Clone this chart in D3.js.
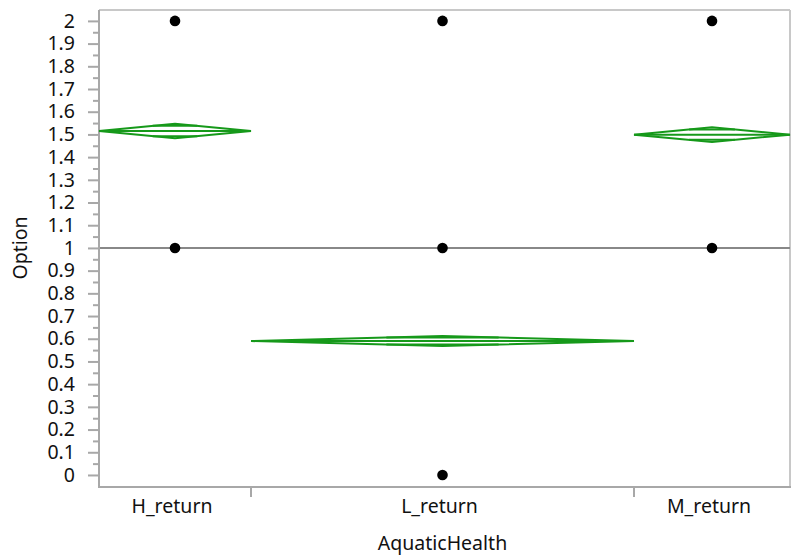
<!DOCTYPE html>
<html><head><meta charset="utf-8">
<script src="https://cdn.jsdelivr.net/npm/d3@7"></script>
<style>body{margin:0;background:#fff}svg{display:block}text{font-family:"Noto Sans","Open Sans",sans-serif;fill:#111}</style>
</head><body><svg id="c" width="793" height="558"></svg>
<script>
const categories = ["H_return","L_return","M_return"];
const counts = [152, 383, 156];          // relative group sizes (x widths)
const means = [1.515, 0.59, 1.499];
const ciHalf = [0.032, 0.022, 0.032];
const pointValues = [[1,2],[0,1,2],[1,2]];
const grandMean = 1.0;
const yTicks = d3.range(0, 21).map(i => +(i/10).toFixed(1));
const yMinor = d3.range(0, 20).map(i => +(i/10 + 0.05).toFixed(2));

const svg = d3.select("#c");
const L = 99, R = 790, T = 10, B = 487;
const y = d3.scaleLinear().domain([-0.053, 2.048]).range([B, T]);
const total = d3.sum(counts);
const x = d3.scaleLinear().domain([0, total]).range([L, R]);
const starts = counts.map((c,i)=>d3.sum(counts.slice(0,i)));
const green = "#16991a", axisCol = "#a8a8a8";
const fs = "19.5px";

// frame
svg.append("line").attr("x1",L).attr("x2",R).attr("y1",T).attr("y2",T).attr("stroke","#c8c8c8").attr("stroke-width",2);
svg.append("line").attr("x1",R).attr("x2",R).attr("y1",T).attr("y2",B).attr("stroke","#c8c8c8").attr("stroke-width",2);

// grand mean
svg.append("line").attr("x1",L).attr("x2",R).attr("y1",y(grandMean)).attr("y2",y(grandMean)).attr("stroke","#888").attr("stroke-width",2);

// y axis
const ya = svg.append("g").attr("transform",`translate(${L},0)`)
  .call(d3.axisLeft(y).tickValues(yTicks).tickSize(11).tickPadding(13).tickFormat(d=>String(d)));
ya.select(".domain").remove();
ya.selectAll(".tick line").attr("stroke",axisCol).attr("stroke-width",2);
ya.selectAll(".tick text").style("font-size",fs).attr("fill","#111");
const ym = svg.append("g").attr("transform",`translate(${L},0)`)
  .call(d3.axisLeft(y).tickValues(yMinor).tickSize(6).tickFormat(""));
ym.select(".domain").remove();
ym.selectAll(".tick line").attr("stroke",axisCol).attr("stroke-width",2);
svg.append("line").attr("x1",L).attr("x2",L).attr("y1",T).attr("y2",B+1).attr("stroke",axisCol).attr("stroke-width",2);

// x axis
svg.append("line").attr("x1",L-1).attr("x2",R+1).attr("y1",B).attr("y2",B).attr("stroke",axisCol).attr("stroke-width",2);
starts.slice(1).forEach(s=>{
  svg.append("line").attr("x1",x(s)).attr("x2",x(s)).attr("y1",B).attr("y2",B+10).attr("stroke",axisCol).attr("stroke-width",2);
});
categories.forEach((c,i)=>{
  svg.append("text").attr("x",x(starts[i]+counts[i]/2)-3).attr("y",513).attr("text-anchor","middle").style("font-size",fs).text(c);
});
svg.append("text").attr("x",(L+R)/2-2).attr("y",550).attr("text-anchor","middle").style("font-size",fs).text("AquaticHealth");
svg.append("text").attr("transform",`translate(27,${y(1)}) rotate(-90)`).attr("text-anchor","middle").style("font-size",fs).text("Option");

// diamonds
categories.forEach((c,i)=>{
  const x0 = x(starts[i]), x1 = x(starts[i]+counts[i]), xm = (x0+x1)/2;
  const m = means[i], h = ciHalf[i];
  const g = svg.append("g").attr("stroke",green).attr("stroke-width",2).attr("fill","none");
  g.append("path").attr("d",`M${x0},${y(m)}L${xm},${y(m+h)}L${x1},${y(m)}L${xm},${y(m-h)}Z`);
  g.append("line").attr("x1",x0).attr("x2",x1).attr("y1",y(m)).attr("y2",y(m));
  const o = h/Math.SQRT2, f = 1 - o/h, w = (x1-x0)/2*f;
  [m+o, m-o].forEach(v=>{
    g.append("line").attr("x1",xm-w).attr("x2",xm+w).attr("y1",y(v)).attr("y2",y(v));
  });
});

// points
categories.forEach((c,i)=>{
  const xc = x(starts[i]+counts[i]/2);
  svg.append("g").selectAll("circle").data(pointValues[i]).join("circle")
    .attr("cx",xc).attr("cy",d=>y(d)).attr("r",5.3).attr("fill","#000");
});
</script></body></html>
